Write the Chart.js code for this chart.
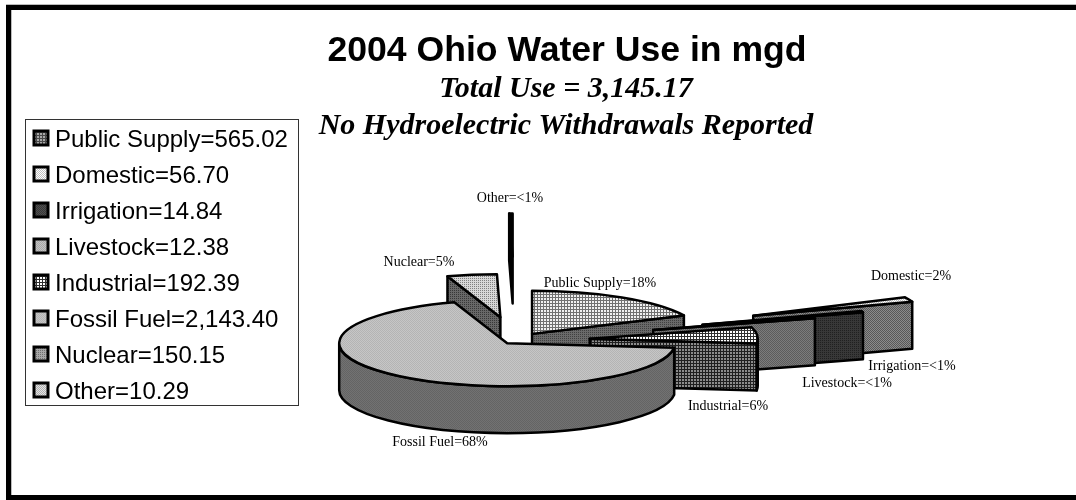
<!DOCTYPE html>
<html>
<head>
<meta charset="utf-8">
<title>2004 Ohio Water Use in mgd</title>
<script src="https://cdn.jsdelivr.net/npm/chart.js@4"></script>
<style>
    html, body { margin: 0; padding: 0; background: #fff; }
    #chart-box { width: 1076px; height: 500px; }
</style>
</head>
<body>
<div id="chart-box"><canvas id="water-chart"></canvas></div>
<script>
const categories = ['Public Supply', 'Domestic', 'Irrigation', 'Livestock', 'Industrial', 'Fossil Fuel', 'Nuclear', 'Other'];
const useMgd = [565.02, 56.70, 14.84, 12.38, 192.39, 2143.40, 150.15, 10.29];
const useLabels = ['565.02', '56.70', '14.84', '12.38', '192.39', '2,143.40', '150.15', '10.29'];
const shareLabels = ['18%', '2%', '<1%', '<1%', '6%', '68%', '5%', '<1%'];
const titleText = '2004 Ohio Water Use in mgd';
const subtitleLines = ['Total Use = 3,145.17', 'No Hydroelectric Withdrawals Reported'];

// how far each slice is pulled out of the pie, along its own middle angle
const explode = [30, 256, 196, 143, 74, 14, 92, 328];
const tilt = 0.256;
const depth = 47;
const paintOrder = [7, 6, 0, 1, 2, 3, 4, 5];

const labelCenters = [[600, 283], [911, 276], [912, 366], [847, 383], [728, 406], [440, 442], [419, 262], [510, 198]];

function tile(size, bg, ink, cells) {
    const c = document.createElement('canvas');
    c.width = size;
    c.height = size;
    const t = c.getContext('2d');
    t.fillStyle = bg;
    t.fillRect(0, 0, size, size);
    t.fillStyle = ink;
    cells.forEach(([x, y]) => t.fillRect(x, y, 1, 1));
    return t.createPattern(c, 'repeat');
}

const grid3 = [[0, 0], [1, 0], [2, 0], [0, 1], [0, 2]];
const dot2 = [[0, 0]];
const check2 = [[0, 0], [1, 1]];

const topFills = [
    tile(3, '#f0f0f0', '#707070', grid3),
    tile(2, '#ffffff', '#c0c0c0', check2),
    tile(2, '#505050', '#383838', check2),
    tile(2, '#c4c4c4', '#a8a8a8', check2),
    tile(3, '#ffffff', '#303030', grid3),
    tile(2, '#c6c6c6', '#b4b4b4', check2),
    tile(2, '#d8d8d8', '#808080', dot2),
    '#000'
];
const wallFills = [
    tile(2, '#6a6a6a', '#404040', dot2),
    tile(2, '#8c8c8c', '#585858', check2),
    tile(2, '#383838', '#202020', dot2),
    tile(2, '#7c7c7c', '#5c5c5c', check2),
    tile(3, '#8c8c8c', '#202020', grid3),
    tile(2, '#727272', '#646464', check2),
    tile(2, '#686868', '#383838', dot2),
    '#000'
];
const swatchFills = [
    tile(3, '#a8a8a8', '#484848', grid3),
    topFills[1], topFills[2], topFills[3], topFills[4], topFills[5],
    tile(2, '#a8a8a8', '#707070', dot2),
    tile(2, '#e4e4e4', '#b0b0b0', check2)
];

const pie3d = {
    id: 'pie3d',
    beforeDraw(chart) {
        const ctx = chart.ctx;
        ctx.save();
        ctx.fillStyle = '#000';
        ctx.fillRect(6, 5, 1070, 5);
        ctx.fillRect(6, 5, 5, 495);
        ctx.fillRect(6, 495, 1070, 5);
        ctx.fillStyle = '#bbb';
        ctx.fillRect(6, 4, 1070, 1);
        ctx.fillRect(11, 10, 1, 485);
        ctx.restore();
    },
    beforeDatasetsDraw(chart) {
        const ctx = chart.ctx;
        const arcs = chart.getDatasetMeta(0).data;
        ctx.save();
        ctx.lineJoin = 'round';
        paintOrder.forEach(i => {
            const arc = arcs[i];
            const { x, y, startAngle: a0, endAngle: a1, outerRadius: r } = arc;
            const mid = (a0 + a1) / 2;
            const cx = x + Math.cos(mid) * explode[i];
            const cy = y + Math.sin(mid) * explode[i] * tilt;
            const px = a => cx + Math.cos(a) * r;
            const py = a => cy + Math.sin(a) * r * tilt;

            ctx.strokeStyle = arc.options.borderColor;
            ctx.lineWidth = arc.options.borderWidth;

            const radialWall = a => {
                ctx.beginPath();
                ctx.moveTo(cx, cy);
                ctx.lineTo(px(a), py(a));
                ctx.lineTo(px(a), py(a) + depth);
                ctx.lineTo(cx, cy + depth);
                ctx.closePath();
                ctx.fillStyle = wallFills[i];
                ctx.fill();
                ctx.stroke();
            };
            if (Math.cos(a0) < 0) radialWall(a0);
            if (Math.cos(a1) > 0) radialWall(a1);

            // rim wall, only the part of the rim that faces the viewer
            const from = Math.max(a0, 0);
            const to = Math.min(a1, Math.PI);
            if (to > from) {
                ctx.beginPath();
                ctx.ellipse(cx, cy, r, r * tilt, 0, from, to);
                ctx.lineTo(px(to), py(to) + depth);
                ctx.ellipse(cx, cy + depth, r, r * tilt, 0, to, from, true);
                ctx.closePath();
                ctx.fillStyle = wallFills[i];
                ctx.fill();
                ctx.stroke();
            }

            ctx.beginPath();
            ctx.moveTo(cx, cy);
            ctx.ellipse(cx, cy, r, r * tilt, 0, a0, a1);
            ctx.closePath();
            ctx.fillStyle = arc.options.backgroundColor;
            ctx.fill();
            ctx.stroke();
        });
        ctx.restore();

        ctx.save();
        ctx.fillStyle = '#000';
        ctx.textAlign = 'center';
        ctx.textBaseline = 'middle';
        ctx.font = '14px "Liberation Serif"';
        categories.forEach((name, i) => {
            ctx.fillText(`${name}=${shareLabels[i]}`, labelCenters[i][0], labelCenters[i][1]);
        });
        ctx.font = 'italic bold 30px "Liberation Serif"';
        ctx.textBaseline = 'alphabetic';
        ctx.fillText(subtitleLines[0], 566, 97);
        ctx.fillText(subtitleLines[1], 566, 134);
        ctx.restore();
        return false;
    },
    afterLayout(chart) {
        const box = chart.legend;
        box.left = 22;
        box.right = 298;
        box.top = 116;
        box.bottom = 445;
        // title is centred over the pie side of the page, not over the chart area
        chart.titleBlock.left = 58;
        chart.titleBlock.right = 1076;
    },
    afterDraw(chart) {
        const ctx = chart.ctx;
        ctx.save();
        ctx.strokeStyle = '#333';
        ctx.lineWidth = 1;
        ctx.strokeRect(25.5, 119.5, 273, 286);
        // legend swatches sit tighter to the text than the plugin would put them
        ctx.strokeStyle = '#000';
        ctx.lineWidth = 3;
        categories.forEach((name, i) => {
            ctx.fillStyle = swatchFills[i];
            ctx.fillRect(34, 131 + i * 36, 14, 14);
            ctx.strokeRect(34, 131 + i * 36, 14, 14);
        });
        ctx.restore();
    }
};

new Chart(document.querySelector('#water-chart'), {
    type: 'pie',
    data: {
        labels: categories,
        datasets: [{
            data: useMgd,
            backgroundColor: topFills,
            borderColor: '#000',
            borderWidth: 2.5,
            radius: 168
        }]
    },
    options: {
        responsive: true,
        maintainAspectRatio: false,
        animation: false,
        layout: { padding: { right: 44 } },
        plugins: {
            tooltip: { enabled: false },
            title: {
                display: true,
                text: titleText,
                color: '#000',
                font: { family: '"Liberation Sans"', size: 35.6, weight: 'bold' },
                padding: { top: 30, bottom: 108 }
            },
            legend: {
                position: 'chartArea',
                align: 'start',
                labels: {
                    color: '#000',
                    font: { family: '"Liberation Sans"', size: 24 },
                    boxWidth: 9,
                    boxHeight: 9,
                    padding: 12,
                    generateLabels: chart => categories.map((name, i) => ({
                        text: `${name}=${useLabels[i]}`,
                        fillStyle: 'transparent',
                        strokeStyle: 'transparent',
                        lineWidth: 0,
                        index: i
                    }))
                }
            }
        }
    },
    plugins: [pie3d]
});
</script>
</body>
</html>
